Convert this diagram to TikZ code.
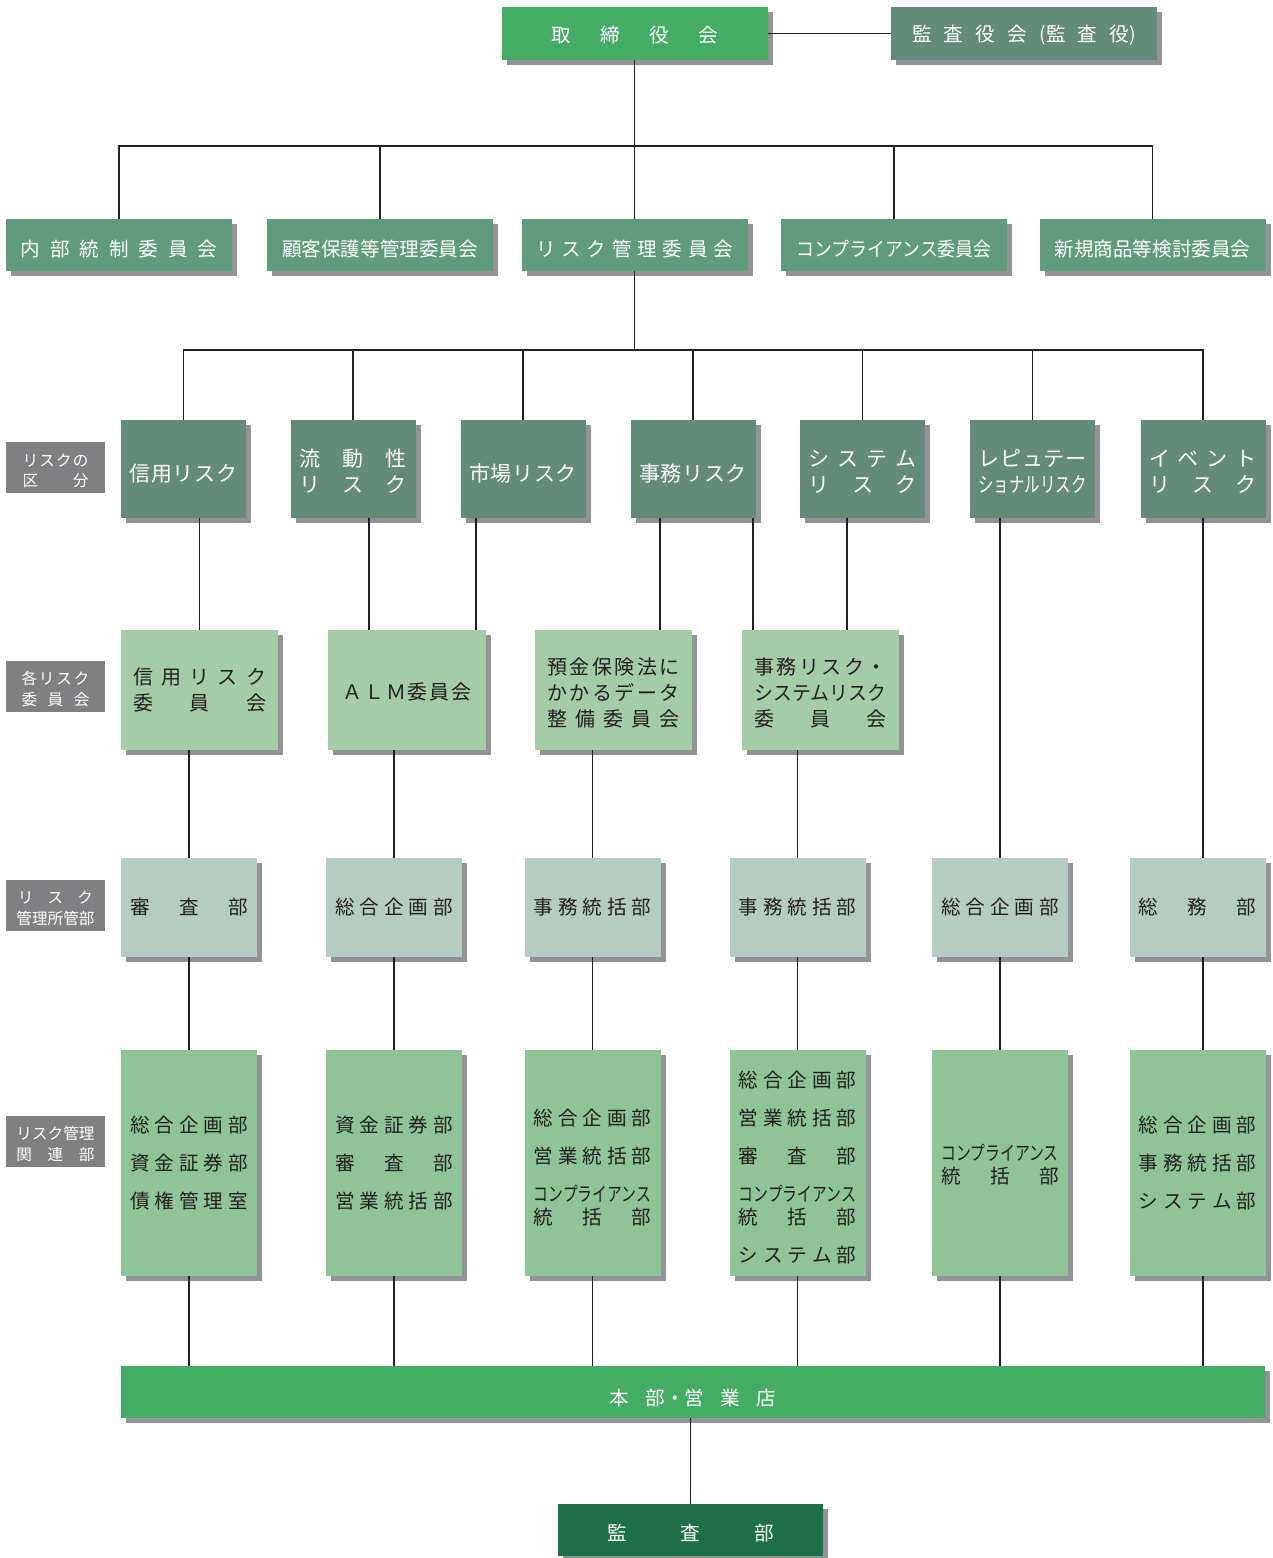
\documentclass[tikz,border=0pt]{standalone}
\usepackage{fontspec}
\setmainfont{Noto Sans CJK JP}
\usepackage{graphicx}
\usetikzlibrary{shadows,calc}
\definecolor{boardgreen}{HTML}{45AC66}
\definecolor{cmteal}{HTML}{5F9B7C}
\definecolor{riskteal}{HTML}{648A79}
\definecolor{labelgray}{HTML}{808083}
\definecolor{cmlight}{HTML}{A3CCA7}
\definecolor{deptpale}{HTML}{B5CDC0}
\definecolor{relgreen}{HTML}{8EC496}
\definecolor{auditgreen}{HTML}{1D7045}
\definecolor{shade}{HTML}{939397}
\definecolor{ink}{HTML}{231F20}
\newcommand{\jw}[2]{\makebox[#1][s]{\spaceskip=0pt plus 1fil\relax #2}}
\newcommand{\dn}[1]{\rule{0pt}{\dimexpr0.83em+#1\relax}}
\newcommand{\comp}{\scalebox{0.755}[1]{コンプライアンス}}
\tikzset{
  shad/.style={drop shadow={shadow xshift=2.5pt,shadow yshift=-2.5pt,
               fill=shade,opacity=1}},
  box/.style={shad,inner sep=0pt,outer sep=0pt,align=center},
  topbox/.style={box,minimum width=133pt,minimum height=26.5pt,text=white,
                 font=\fontsize{9.8}{12}\selectfont},
  cmtbox/.style={box,fill=cmteal,minimum width=113pt,minimum height=26pt,
                 text=white,font=\fontsize{9.8}{12}\selectfont},
  riskbox/.style={box,fill=riskteal,minimum width=62.5pt,minimum height=49pt,
                  text=white,font=\fontsize{10.5}{13}\selectfont},
  tagbox/.style={fill=labelgray,inner sep=0pt,minimum width=49.5pt,
                 minimum height=25.5pt,text=white,align=center,
                 font=\fontsize{7.8}{10.3}\selectfont},
  rcbox/.style={box,fill=cmlight,minimum height=60pt,text=ink,
                font=\fontsize{10}{13}\selectfont},
  deptbox/.style={box,fill=deptpale,minimum width=68pt,minimum height=49.5pt,
                  text=ink,font=\fontsize{9.8}{12}\selectfont},
  relbox/.style={box,fill=relgreen,minimum width=68pt,minimum height=113pt,
                 text=ink,font=\fontsize{9.8}{19}\selectfont},
  link/.style={draw=ink,line width=0.7pt},
}
\begin{document}
\begin{tikzpicture}[x=0.5pt,y=-0.5pt]
  \useasboundingbox (0,0) rectangle (1273,1558);
  % board and committees
  \node[topbox,fill=boardgreen] (board) at (635,33.5) {\dn{2pt}\jw{83.5pt}{取 締 役 会}};
  \node[topbox,fill=riskteal] (auditbd) at (1024,33.5) {\dn{2pt}\jw{112pt}{監 査 役 会 (監 査 役)}};
  \node[cmtbox] (c1) at (119,245) {\dn{4pt}\jw{98.5pt}{内 部 統 制 委 員 会}};
  \node[cmtbox] (c2) at (380,245) {\dn{4pt}顧客保護等管理委員会};
  \node[cmtbox] (c3) at (634.5,245) {\dn{4pt}\jw{98.5pt}{リ ス ク 管 理 委 員 会}};
  \node[cmtbox] (c4) at (894,245) {\dn{4pt}\scalebox{0.914}[1]{コンプライアンス委員会}};
  \node[cmtbox] (c5) at (1152.5,245) {\dn{4pt}新規商品等検討委員会};
  % row labels
  \node[tagbox] (tag1) at (55.5,467.5) {\dn{3pt}\jw{33pt}{リ ス ク の}\\\jw{33pt}{区 分}};
  \node[tagbox] (tag2) at (55.5,686) {\dn{3pt}\jw{34pt}{各 リ ス ク}\\\jw{34pt}{委 員 会}};
  \node[tagbox] (tag3) at (55.5,905) {\dn{3pt}\jw{37.5pt}{リ ス ク}\\管理所管部};
  \node[tagbox] (tag4) at (55.5,1141) {\dn{3pt}リスク管理\\\jw{39pt}{関 連 部}};
  % risk categories
  \node[riskbox] (r1) at (183.5,469) {\dn{5pt}\jw{54pt}{信 用 リ ス ク}};
  \node[riskbox] (r2) at (353,469) {\dn{2pt}\jw{54pt}{流 動 性}\\\jw{54pt}{リ ス ク}};
  \node[riskbox] (r3) at (523,469) {\dn{5pt}\jw{54pt}{市 場 リ ス ク}};
  \node[riskbox] (r4) at (693,469) {\dn{5pt}\jw{54pt}{事 務 リ ス ク}};
  \node[riskbox] (r5) at (862.5,469) {\dn{2pt}\jw{54pt}{シ ス テ ム}\\\jw{54pt}{リ ス ク}};
  \node[riskbox] (r6) at (1032.5,469) {\dn{2pt}\jw{54pt}{レ ピ ュ テ ー}\\\scalebox{0.735}[1]{ショナルリスク}};
  \node[riskbox] (r7) at (1203,469) {\dn{2pt}\jw{54pt}{イ ベ ン ト}\\\jw{54pt}{リ ス ク}};
  % risk committees
  \node[rcbox,minimum width=78.5pt] (k1) at (199.5,690)
    {\dn{0pt}\jw{66.5pt}{信 用 リ ス ク}\\\jw{66.5pt}{委 員 会}};
  \node[rcbox,minimum width=79pt] (k2) at (407,690) {\dn{2pt}\jw{64.5pt}{Ａ Ｌ Ｍ 委 員 会}};
  \node[rcbox,minimum width=78.5pt] (k3) at (613.5,690)
    {\dn{3pt}\jw{66pt}{預 金 保 険 法 に}\\\jw{66pt}{か か る デ ー タ}\\\jw{66pt}{整 備 委 員 会}};
  \node[rcbox,minimum width=78.5pt] (k4) at (820.5,690)
    {\dn{3pt}\jw{66pt}{事 務 リ ス ク ・}\\\scalebox{0.943}[1]{システムリスク}\\\jw{66pt}{委 員 会}};
  % managing departments
  \node[deptbox] (m1) at (189,907.5) {\jw{59pt}{審 査 部}};
  \node[deptbox] (m2) at (394,907.5) {\jw{59pt}{総 合 企 画 部}};
  \node[deptbox] (m3) at (592.5,907.5) {\jw{59pt}{事 務 統 括 部}};
  \node[deptbox] (m4) at (797.5,907.5) {\jw{59pt}{事 務 統 括 部}};
  \node[deptbox] (m5) at (1000,907.5) {\jw{59pt}{総 合 企 画 部}};
  \node[deptbox] (m6) at (1197.5,907.5) {\jw{59pt}{総 務 部}};
  % related departments
  \node[relbox] (n1) at (189,1163)
    {\jw{59pt}{総 合 企 画 部}\\\jw{59pt}{資 金 証 券 部}\\\jw{59pt}{債 権 管 理 室}};
  \node[relbox] (n2) at (394,1163)
    {\jw{59pt}{資 金 証 券 部}\\\jw{59pt}{審 査 部}\\\jw{59pt}{営 業 統 括 部}};
  \node[relbox] (n3) at (592.5,1163)
    {\dn{5pt}\jw{59pt}{総 合 企 画 部}\\\jw{59pt}{営 業 統 括 部}\\\comp\\[-7.5pt]\jw{59pt}{統 括 部}};
  \node[relbox] (n4) at (797.5,1163)
    {\dn{5pt}\jw{59pt}{総 合 企 画 部}\\\jw{59pt}{営 業 統 括 部}\\\jw{59pt}{審 査 部}\\
     \comp\\[-7.5pt]\jw{59pt}{統 括 部}\\\jw{59pt}{シ ス テ ム 部}};
  \node[relbox] (n5) at (1000,1163) {\dn{2pt}\comp\\[-7.5pt]\jw{59pt}{統 括 部}};
  \node[relbox] (n6) at (1197.5,1163)
    {\jw{59pt}{総 合 企 画 部}\\\jw{59pt}{事 務 統 括 部}\\\jw{59pt}{シ ス テ ム 部}};
  % branches and audit
  \node[box,fill=boardgreen,minimum width=572pt,minimum height=26pt,text=white,
        font=\fontsize{9.8}{12}\selectfont] (bar) at (693,1392) {\dn{6pt}\jw{83.5pt}{本 部・営 業 店}};
  \node[box,fill=auditgreen,minimum width=132.5pt,minimum height=26pt,text=white,
        font=\fontsize{9.8}{12}\selectfont] (audit) at (690.5,1530) {\dn{3pt}\jw{83.5pt}{監 査 部}};
  % connectors
  \coordinate (t1) at (634.5,146);
  \coordinate (t2) at (634.5,350);
  \draw[link] (board.east) -- (auditbd.west);
  \draw[link] (board.south -| c3.north) -- (c3.north);
  \draw[link] (c1.north) |- (t1) -| (c5.north);
  \draw[link] (c2.north) -- (c2.north |- t1);
  \draw[link] (c4.north) -- (c4.north |- t1);
  \draw[link] (c3.south) -- (t2);
  \draw[link] (r1.north) |- (t2) -| (r7.north);
  \foreach \r in {r2,r3,r4,r5,r6}
    \draw[link] (\r.north) -- (\r.north |- t2);
  \coordinate (a2) at ([xshift=8pt]r2.south);
  \coordinate (a3) at ([xshift=-23.5pt]r3.south);
  \coordinate (a4) at ([xshift=-16.5pt]r4.south);
  \coordinate (b4) at ([xshift=30pt]r4.south);
  \coordinate (a5) at ([xshift=-7.75pt]r5.south);
  \draw[link] (k1.north) -- (k1.north |- r1.south);
  \draw[link] (a2) -- (a2 |- k2.north);
  \draw[link] (a3) -- (a3 |- k2.north);
  \draw[link] (a4) -- (a4 |- k3.north);
  \draw[link] (b4) -- (b4 |- k4.north);
  \draw[link] (a5) -- (a5 |- k4.north);
  \draw[link] (m5.north) -- (m5.north |- r6.south);
  \draw[link] (r7.south) -- (r7.south |- m6.north);
  \foreach \i in {1,2,3,4}
    \draw[link] (m\i.north) -- (m\i.north |- k\i.south);
  \foreach \i in {1,...,5}{
    \draw[link] (m\i.south) -- (n\i.north);
    \draw[link] (n\i.south) -- (n\i.south |- bar.north);
  }
  \draw[link] (r7.south |- m6.south) -- (r7.south |- n6.north);
  \draw[link] (r7.south |- n6.south) -- (r7.south |- bar.north);
  \draw[link] (audit.north) -- (audit.north |- bar.south);
\end{tikzpicture}
\end{document}
